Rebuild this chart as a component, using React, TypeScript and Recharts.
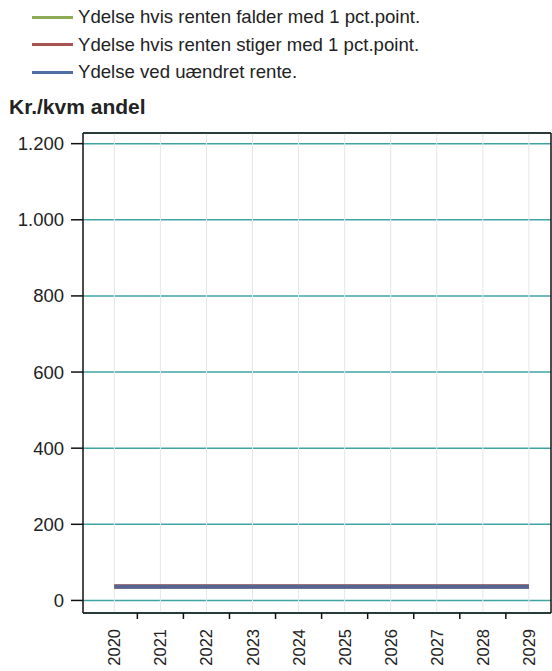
import React from "react";
import { LineChart, Line, XAxis, YAxis, CartesianGrid, ReferenceLine } from "recharts";

const years = [2020, 2021, 2022, 2023, 2024, 2025, 2026, 2027, 2028, 2029];
const faldValues = [36, 36, 36, 36, 36, 36, 36, 36, 36, 36];
const stigValues = [37.5, 37.5, 37.5, 37.5, 37.5, 37.5, 37.5, 37.5, 37.5, 37.5];
const uaendretValues = [36, 36, 36, 36, 36, 36, 36, 36, 36, 36];
const yTicks = [0, 200, 400, 600, 800, 1000, 1200];
const seriesNames = [
  "Ydelse hvis renten falder med 1 pct.point.",
  "Ydelse hvis renten stiger med 1 pct.point.",
  "Ydelse ved uændret rente.",
];
const yTitle = "Kr./kvm andel";

const COLORS = ["#8DAA55", "#A55452", "#4E6DA3"];
const FONT = "'Liberation Sans', Arial, sans-serif";
const X_MIN = 2019.32;
const X_MAX = 2029.48;
const Y_MIN = -33;
const Y_MAX = 1228;

const halfTicks = years.slice(0, -1).map((y) => y + 0.5);
const xTicks = [...years, ...halfTicks].sort((a, b) => a - b);

const data = years.map((year, i) => ({
  year,
  fald: faldValues[i],
  stig: stigValues[i],
  uaendret: uaendretValues[i],
}));

const fmt = (v: number) => String(v).replace(/\B(?=(\d{3})+(?!\d))/g, ".");

const XTick = (props: any) => {
  const { x, y, payload } = props;
  const v = payload.value;
  if (Number.isInteger(v)) {
    return (
      <text
        transform={`translate(${x + 6},${y + 16}) rotate(-90)`}
        textAnchor="end"
        fontSize={16.5}
        fontFamily={FONT}
        fill="#222"
      >
        {v}
      </text>
    );
  }
  return <line x1={x} x2={x} y1={y} y2={y + 6} stroke="#111" strokeWidth={1.5} />;
};

export default function App() {
  return (
    <div style={{ position: "absolute", left: 0, top: 0, width: 552, height: 671, background: "#fff", fontFamily: FONT }}>
      <div style={{ position: "absolute", left: 32, top: 3.25 }}>
        {seriesNames.map((name, i) => (
          <div key={name} style={{ display: "flex", alignItems: "center", height: 27.5 }}>
            <div style={{ width: 41, height: 3, background: COLORS[i], marginRight: 5 }} />
            <span style={{ fontSize: 18.6, color: "#222", whiteSpace: "nowrap" }}>{name}</span>
          </div>
        ))}
      </div>
      <div style={{ position: "absolute", left: 9, top: 95, fontSize: 21, fontWeight: "bold", color: "#222", whiteSpace: "nowrap" }}>
        {yTitle}
      </div>
      <div style={{ position: "absolute", left: 0, top: 0 }}>
        <LineChart width={552} height={671} data={data} margin={{ top: 133, right: 1, left: 0, bottom: 0 }}>
          <CartesianGrid vertical={false} stroke="#3FA3A3" strokeWidth={1.5} />
          {years.map((y) => (
            <ReferenceLine key={y} x={y} stroke="#E6E6E6" strokeWidth={1} ifOverflow="visible" />
          ))}
          <ReferenceLine y={Y_MAX} stroke="#111" strokeWidth={1.5} ifOverflow="visible" />
          <ReferenceLine x={X_MAX} stroke="#111" strokeWidth={1.5} ifOverflow="visible" />
          <XAxis
            dataKey="year"
            type="number"
            domain={[X_MIN, X_MAX]}
            ticks={xTicks}
            interval={0}
            tickSize={0}
            tickMargin={0}
            tickLine={false}
            tick={<XTick />}
            height={58}
            axisLine={{ stroke: "#111", strokeWidth: 1.5 }}
            allowDataOverflow
          />
          <YAxis
            type="number"
            domain={[Y_MIN, Y_MAX]}
            ticks={yTicks}
            interval={0}
            width={83}
            tickSize={12}
            tickMargin={7}
            tickFormatter={fmt}
            tick={{ fontSize: 18.5, fontFamily: FONT, fill: "#222" }}
            tickLine={{ stroke: "#111", strokeWidth: 1.5 }}
            axisLine={{ stroke: "#111", strokeWidth: 1.5 }}
            allowDataOverflow
          />
          <Line dataKey="fald" name={seriesNames[0]} stroke={COLORS[0]} strokeWidth={4} dot={false} isAnimationActive={false} />
          <Line dataKey="stig" name={seriesNames[1]} stroke={COLORS[1]} strokeWidth={4} dot={false} isAnimationActive={false} />
          <Line dataKey="uaendret" name={seriesNames[2]} stroke="#566495" strokeWidth={4} dot={false} isAnimationActive={false} />
        </LineChart>
      </div>
    </div>
  );
}
